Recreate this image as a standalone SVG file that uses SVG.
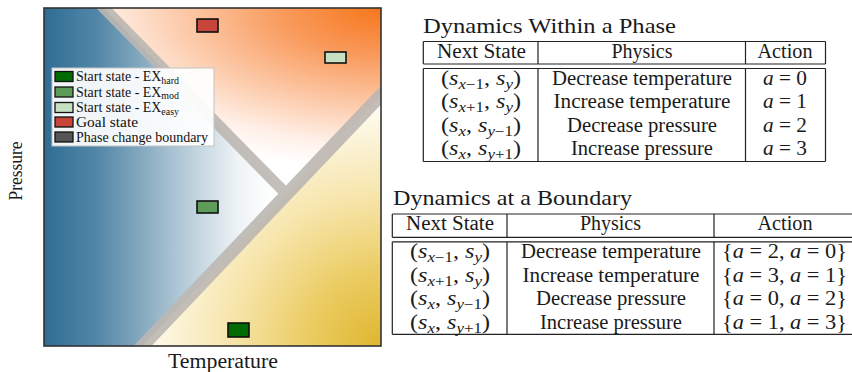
<svg xmlns="http://www.w3.org/2000/svg" width="852" height="372" viewBox="0 0 852 372">
<style>
.t{font-family:"Liberation Serif","Times New Roman",serif;fill:#1a1a1a}
.tb{font-size:20px}
.ti{font-size:21px}
.i{font-style:italic}
.sb{font-size:14px}
.lg{font-family:"Liberation Serif","Times New Roman",serif;font-size:14px;fill:#111}
.ls{font-size:10px}
.rule{stroke:#222;stroke-width:1.2;fill:none}
.box{stroke:#111;stroke-width:1.6}
.sw{stroke:#111;stroke-width:1.3}
</style>
<defs>
<clipPath id="plotClip"><rect x="44" y="8" width="337" height="338"/></clipPath>
<linearGradient id="gBlue" gradientUnits="userSpaceOnUse" x1="44" y1="0" x2="272" y2="0">
<stop offset="0" stop-color="#2f6c94"/>
<stop offset="0.25" stop-color="#5689a9"/>
<stop offset="0.55" stop-color="#a5c0d0"/>
<stop offset="0.85" stop-color="#eef3f6"/>
<stop offset="1" stop-color="#ffffff"/>
</linearGradient>
<radialGradient id="gOrange" gradientUnits="userSpaceOnUse" cx="381" cy="8" r="160" gradientTransform="translate(381 8) scale(2.06 1) translate(-381 -8)">
<stop offset="0" stop-color="#f6761a"/>
<stop offset="0.3" stop-color="#f99a5c"/>
<stop offset="0.6" stop-color="#fcc9a8"/>
<stop offset="0.85" stop-color="#fff0e8"/>
<stop offset="1" stop-color="#ffffff"/>
</radialGradient>
<radialGradient id="gYellow" gradientUnits="userSpaceOnUse" cx="381" cy="346" r="245">
<stop offset="0" stop-color="#dfb630"/>
<stop offset="0.3" stop-color="#ebcc62"/>
<stop offset="0.6" stop-color="#f6e4a8"/>
<stop offset="1" stop-color="#fffdf6"/>
</radialGradient>
</defs>
<rect width="852" height="372" fill="#ffffff"/>

<g id="plot" clip-path="url(#plotClip)">
<rect x="44" y="8" width="337" height="338" fill="#ffffff"/>
<polygon id="region-blue" points="44,8 104,8 286.7,194.4 142.5,346 44,346" fill="url(#gBlue)"/>
<polygon id="region-orange" points="104,8 381,8 381,95 286.7,194.4" fill="url(#gOrange)"/>
<polygon id="region-yellow" points="381,95 381,346 142.5,346" fill="url(#gYellow)"/>
<g id="boundaries" opacity="0.9" stroke="#bcb7b2" fill="none">
<line x1="96" y1="0" x2="286.7" y2="194.4" stroke-width="11"/>
<line x1="133" y1="356" x2="391" y2="84.5" stroke-width="13"/>
</g>
</g>

<g id="goal"><rect class="box" x="197" y="19" width="21" height="13" fill="#c8453b"/></g>
<g id="start-easy"><rect class="box" x="325" y="52" width="21" height="11" fill="#c6e0c2"/></g>
<g id="start-mod"><rect class="box" x="197" y="201" width="21" height="12" fill="#5e9c5a"/></g>
<g id="start-hard"><rect class="box" x="228" y="323" width="21" height="14" fill="#006b00"/></g>

<g id="legend">
<rect x="52" y="68" width="162" height="78" fill="#ffffff" fill-opacity="0.92" stroke="#c4c4c4" stroke-width="1"/>
<rect class="sw" x="55" y="71.5" width="18" height="10" fill="#006b00"/>
<rect class="sw" x="55" y="87" width="18" height="10" fill="#5e9c5a"/>
<rect class="sw" x="55" y="102.5" width="18" height="10" fill="#c6e0c2"/>
<rect class="sw" x="55" y="117" width="18" height="10" fill="#c8453b"/>
<rect class="sw" x="55" y="132" width="18" height="10" fill="#555555"/>
<text class="lg" x="76" y="81" textLength="103" lengthAdjust="spacingAndGlyphs">Start state - EX<tspan class="ls" dy="2.5">hard</tspan></text>
<text class="lg" x="76" y="96.5" textLength="103" lengthAdjust="spacingAndGlyphs">Start state - EX<tspan class="ls" dy="2.5">mod</tspan></text>
<text class="lg" x="76" y="112" textLength="103" lengthAdjust="spacingAndGlyphs">Start state - EX<tspan class="ls" dy="2.5">easy</tspan></text>
<text class="lg" x="76" y="127" textLength="62" lengthAdjust="spacingAndGlyphs">Goal state</text>
<text class="lg" x="76" y="141.5" textLength="132" lengthAdjust="spacingAndGlyphs">Phase change boundary</text>
</g>

<rect id="frame" x="44" y="8" width="337" height="338" fill="none" stroke="#333" stroke-width="1.6"/>

<g id="axes">
<text class="t" font-size="19" x="0" y="0" text-anchor="middle" textLength="59" lengthAdjust="spacingAndGlyphs" transform="translate(22 171) rotate(-90)">Pressure</text>
<text class="t" font-size="20" x="223" y="368" text-anchor="middle" textLength="110" lengthAdjust="spacingAndGlyphs">Temperature</text>
</g>

<g id="table-phase">
<text class="t ti" x="423" y="33" textLength="253" lengthAdjust="spacingAndGlyphs">Dynamics Within a Phase</text>
<path class="rule" d="M423.3,41.5H825.5 M423.3,64H825.5 M423.3,68.5H825.5 M423.3,161.5H825.5 M423.3,41.5V64 M538,41.5V64 M745.5,41.5V64 M825.5,41.5V64 M423.3,68.5V161.5 M538,68.5V161.5 M745.5,68.5V161.5 M825.5,68.5V161.5"/>
<text class="t tb" x="481.5" y="57.5" text-anchor="middle" textLength="89" lengthAdjust="spacingAndGlyphs">Next State</text>
<text class="t tb" x="642" y="57.5" text-anchor="middle" textLength="61" lengthAdjust="spacingAndGlyphs">Physics</text>
<text class="t tb" x="785" y="57.5" text-anchor="middle" textLength="55" lengthAdjust="spacingAndGlyphs">Action</text>

<text class="t tb" x="481" y="84.5" text-anchor="middle" textLength="80" lengthAdjust="spacingAndGlyphs">(<tspan class="i">s</tspan><tspan class="sb" dy="4"><tspan class="i">x</tspan>−1</tspan><tspan dy="-4">, </tspan><tspan class="i">s</tspan><tspan class="sb i" dy="4">y</tspan><tspan dy="-4">)</tspan></text>
<text class="t tb" x="481" y="108" text-anchor="middle" textLength="80" lengthAdjust="spacingAndGlyphs">(<tspan class="i">s</tspan><tspan class="sb" dy="4"><tspan class="i">x</tspan>+1</tspan><tspan dy="-4">, </tspan><tspan class="i">s</tspan><tspan class="sb i" dy="4">y</tspan><tspan dy="-4">)</tspan></text>
<text class="t tb" x="481" y="131.5" text-anchor="middle" textLength="80" lengthAdjust="spacingAndGlyphs">(<tspan class="i">s</tspan><tspan class="sb i" dy="4">x</tspan><tspan dy="-4">, </tspan><tspan class="i">s</tspan><tspan class="sb" dy="4"><tspan class="i">y</tspan>−1</tspan><tspan dy="-4">)</tspan></text>
<text class="t tb" x="481" y="155" text-anchor="middle" textLength="80" lengthAdjust="spacingAndGlyphs">(<tspan class="i">s</tspan><tspan class="sb i" dy="4">x</tspan><tspan dy="-4">, </tspan><tspan class="i">s</tspan><tspan class="sb" dy="4"><tspan class="i">y</tspan>+1</tspan><tspan dy="-4">)</tspan></text>

<text class="t tb" x="642" y="84.5" text-anchor="middle" textLength="180" lengthAdjust="spacingAndGlyphs">Decrease temperature</text>
<text class="t tb" x="642" y="108" text-anchor="middle" textLength="177" lengthAdjust="spacingAndGlyphs">Increase temperature</text>
<text class="t tb" x="642" y="131.5" text-anchor="middle" textLength="150" lengthAdjust="spacingAndGlyphs">Decrease pressure</text>
<text class="t tb" x="642" y="155" text-anchor="middle" textLength="142" lengthAdjust="spacingAndGlyphs">Increase pressure</text>

<text class="t tb" x="785" y="84.5" text-anchor="middle" textLength="44" lengthAdjust="spacingAndGlyphs"><tspan class="i">a</tspan> = 0</text>
<text class="t tb" x="785" y="108" text-anchor="middle" textLength="44" lengthAdjust="spacingAndGlyphs"><tspan class="i">a</tspan> = 1</text>
<text class="t tb" x="785" y="131.5" text-anchor="middle" textLength="44" lengthAdjust="spacingAndGlyphs"><tspan class="i">a</tspan> = 2</text>
<text class="t tb" x="785" y="155" text-anchor="middle" textLength="44" lengthAdjust="spacingAndGlyphs"><tspan class="i">a</tspan> = 3</text>
</g>

<g id="table-boundary">
<text class="t ti" x="393" y="205" textLength="239" lengthAdjust="spacingAndGlyphs">Dynamics at a Boundary</text>
<path class="rule" d="M392.3,214H852 M392.3,237.3H852 M392.3,241.8H852 M392.3,334.3H852 M392.3,214V237.3 M507,214V237.3 M714,214V237.3 M392.3,241.8V334.3 M507,241.8V334.3 M714,241.8V334.3"/>
<text class="t tb" x="450" y="230" text-anchor="middle" textLength="88" lengthAdjust="spacingAndGlyphs">Next State</text>
<text class="t tb" x="610.5" y="230" text-anchor="middle" textLength="61" lengthAdjust="spacingAndGlyphs">Physics</text>
<text class="t tb" x="785" y="230" text-anchor="middle" textLength="55" lengthAdjust="spacingAndGlyphs">Action</text>

<text class="t tb" x="450" y="258" text-anchor="middle" textLength="80" lengthAdjust="spacingAndGlyphs">(<tspan class="i">s</tspan><tspan class="sb" dy="4"><tspan class="i">x</tspan>−1</tspan><tspan dy="-4">, </tspan><tspan class="i">s</tspan><tspan class="sb i" dy="4">y</tspan><tspan dy="-4">)</tspan></text>
<text class="t tb" x="450" y="281.5" text-anchor="middle" textLength="80" lengthAdjust="spacingAndGlyphs">(<tspan class="i">s</tspan><tspan class="sb" dy="4"><tspan class="i">x</tspan>+1</tspan><tspan dy="-4">, </tspan><tspan class="i">s</tspan><tspan class="sb i" dy="4">y</tspan><tspan dy="-4">)</tspan></text>
<text class="t tb" x="450" y="305" text-anchor="middle" textLength="80" lengthAdjust="spacingAndGlyphs">(<tspan class="i">s</tspan><tspan class="sb i" dy="4">x</tspan><tspan dy="-4">, </tspan><tspan class="i">s</tspan><tspan class="sb" dy="4"><tspan class="i">y</tspan>−1</tspan><tspan dy="-4">)</tspan></text>
<text class="t tb" x="450" y="328.5" text-anchor="middle" textLength="80" lengthAdjust="spacingAndGlyphs">(<tspan class="i">s</tspan><tspan class="sb i" dy="4">x</tspan><tspan dy="-4">, </tspan><tspan class="i">s</tspan><tspan class="sb" dy="4"><tspan class="i">y</tspan>+1</tspan><tspan dy="-4">)</tspan></text>

<text class="t tb" x="611" y="258" text-anchor="middle" textLength="180" lengthAdjust="spacingAndGlyphs">Decrease temperature</text>
<text class="t tb" x="611" y="281.5" text-anchor="middle" textLength="177" lengthAdjust="spacingAndGlyphs">Increase temperature</text>
<text class="t tb" x="611" y="305" text-anchor="middle" textLength="150" lengthAdjust="spacingAndGlyphs">Decrease pressure</text>
<text class="t tb" x="611" y="328.5" text-anchor="middle" textLength="142" lengthAdjust="spacingAndGlyphs">Increase pressure</text>

<text class="t tb" x="784.5" y="258" text-anchor="middle" textLength="125" lengthAdjust="spacingAndGlyphs">{<tspan class="i">a</tspan> = 2, <tspan class="i">a</tspan> = 0}</text>
<text class="t tb" x="784.5" y="281.5" text-anchor="middle" textLength="125" lengthAdjust="spacingAndGlyphs">{<tspan class="i">a</tspan> = 3, <tspan class="i">a</tspan> = 1}</text>
<text class="t tb" x="784.5" y="305" text-anchor="middle" textLength="125" lengthAdjust="spacingAndGlyphs">{<tspan class="i">a</tspan> = 0, <tspan class="i">a</tspan> = 2}</text>
<text class="t tb" x="784.5" y="328.5" text-anchor="middle" textLength="125" lengthAdjust="spacingAndGlyphs">{<tspan class="i">a</tspan> = 1, <tspan class="i">a</tspan> = 3}</text>
</g>
</svg>
